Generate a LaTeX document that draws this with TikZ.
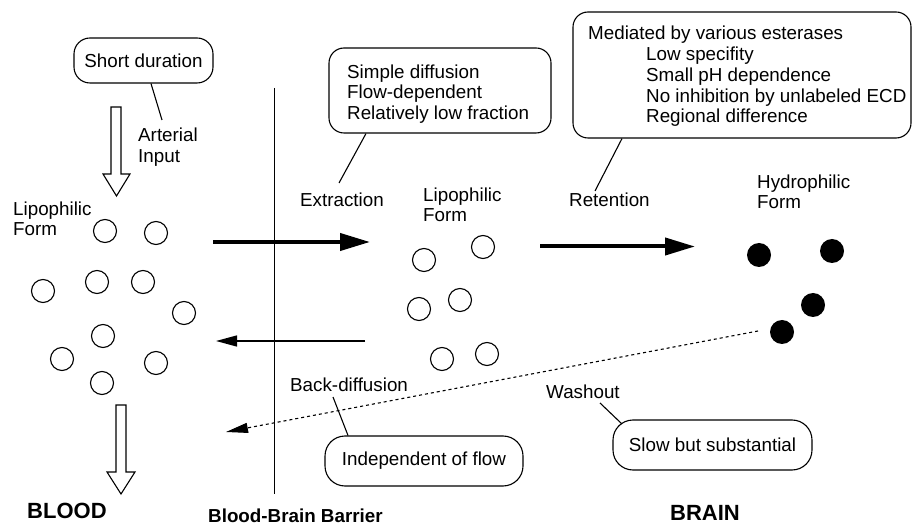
\documentclass[tikz,border=0pt]{standalone}
\usepackage{fontspec}
\setmainfont{Liberation Sans}
\usetikzlibrary{arrows.meta}
\begin{document}
\begin{tikzpicture}[x=1pt,y=-1pt,
  txt/.style={inner sep=0pt, anchor=west, align=left, font=\fontsize{18.8}{20.5}\selectfont},
  boxtxt/.style={inner sep=0pt, anchor=west, align=left, font=\fontsize{18.8}{20.7}\selectfont},
  bigtxt/.style={inner sep=0pt, anchor=west, font=\fontsize{22}{24}\selectfont\bfseries},
  midbold/.style={inner sep=0pt, anchor=west, font=\fontsize{18.8}{22}\selectfont\bfseries},
  callout/.style={draw, line width=1.1pt, rounded corners=#1, inner sep=0pt,
     font=\fontsize{18.8}{21}\selectfont},
  hollow/.style={circle, draw, line width=1.1pt, minimum size=23pt, inner sep=0pt},
  solid dot/.style={circle, fill=black, minimum size=24pt, inner sep=0pt},
  thin/.style={line width=1.1pt},
  thickarrow/.style={line width=4pt, -{Triangle[length=30pt,width=17pt]}},
  backarrow/.style={line width=1.3pt, -{Triangle[length=21pt,width=11pt]}},
  dotarrow/.style={line width=1.1pt, dash pattern=on 3pt off 3pt, -{Triangle[length=22pt,width=10pt]}},
]
\useasboundingbox (0,0) rectangle (913,526);

% ---------- callout boxes ----------
\node[callout=16pt, minimum width=139pt, minimum height=45pt] (box1) at (143.5,60.5) {Short duration};
\node[callout=15pt, minimum width=222pt, minimum height=85pt] (box2) at (440,90.5) {};
\node[boxtxt] (t2) at (347,94) {Simple diffusion\\Flow-dependent\\Relatively low fraction};
\node[callout=15pt, minimum width=338pt, minimum height=126pt] (box4) at (742,75) {};
\node[boxtxt] (t4) at (588,76.5) {Mediated by various esterases\\
  \hspace*{58pt}Low specifity\\
  \hspace*{58pt}Small pH dependence\\
  \hspace*{58pt}No inhibition by unlabeled ECD\\
  \hspace*{58pt}Regional difference};
\node[callout=20pt, minimum width=198pt, minimum height=50pt] (box3) at (424,461) {Independent of flow};
\node[callout=20pt, minimum width=199pt, minimum height=50pt] (box5) at (712.5,445) {Slow but substantial};

% ---------- labels ----------
\node[txt] (arterial) at (138,147) {Arterial\\Input};
\node[txt] (lipo1) at (13,219) {Lipophilic\\Form};
\node[txt] (extraction) at (300,200) {Extraction};
\node[txt] (lipo2) at (423,205) {Lipophilic\\Form};
\node[txt] (retention) at (569,200) {Retention};
\node[txt] (hydro) at (757,192) {Hydrophilic\\Form};
\node[txt] (backdiff) at (290,385) {Back-diffusion};
\node[txt] (washout) at (546,392) {Washout};
\node[bigtxt] (blood) at (27,511) {BLOOD};
\node[midbold] (bbb) at (208,516) {Blood-Brain Barrier};
\node[bigtxt] (brain) at (670,513) {BRAIN};

% ---------- callout pointers ----------
\coordinate (p1) at (162,120);
\coordinate (p2) at (339,183);
\coordinate (p3) at (595,191);
\coordinate (p4a) at (333,397);
\coordinate (p5a) at (600,403);
\coordinate (p5b) at (622,424);
\draw[thin] ([xshift=7.5pt]box1.south) -- (p1);
\draw[thin] ([xshift=-74pt]box2.south) -- (p2);
\draw[thin] ([xshift=-120pt]box4.south) -- (p3);
\draw[thin] (p4a) -- ([xshift=-76pt]box3.north);
\draw[thin] (p5a) -- (p5b);

% ---------- circles ----------
\foreach \i/\x/\y in {1/105/231, 2/156/233, 3/97/282, 4/143/282, 5/43/291,
                      6/184/313, 7/103/336, 8/62/359, 9/156/363, 10/102/383}
  \node[hollow] (a\i) at (\x,\y) {};
\foreach \i/\x/\y in {1/483/247, 2/424/260, 3/460/300, 4/419/309, 5/442/359, 6/487/354}
  \node[hollow] (b\i) at (\x,\y) {};
\foreach \i/\x/\y in {1/759/255, 2/832/251, 3/813/305, 4/782/332}
  \node[solid dot] (c\i) at (\x,\y) {};

% ---------- hollow arrows ----------
\draw[thin] (111,107) -- (121,107) -- (121,174) -- (130,174) -- (116.5,196)
   -- (103,174) -- (111,174) -- cycle;
\draw[thin] (116,405) -- (126,405) -- (126,472) -- (135,472) -- (121,494)
   -- (107,472) -- (116,472) -- cycle;

% ---------- barrier ----------
\coordinate (bbbtop) at (274.5,88);
\coordinate (bbbbot) at (274.5,494);
\draw[thin] (bbbtop) -- (bbbbot);

% ---------- flow arrows ----------
\coordinate (e1) at (213,242);
\coordinate (e2) at (370,242);
\coordinate (r1) at (540,246.5);
\coordinate (r2) at (695,246.5);
\coordinate (k1) at (365,341);
\coordinate (k2) at (216,341);
\coordinate (w1) at (758,331);
\coordinate (w2) at (226,432);
\draw[thickarrow] (e1) -- (e2);
\draw[thickarrow] (r1) -- (r2);
\draw[backarrow] (k1) -- (k2);
\draw[dotarrow] (w1) -- (w2);
\end{tikzpicture}
\end{document}
